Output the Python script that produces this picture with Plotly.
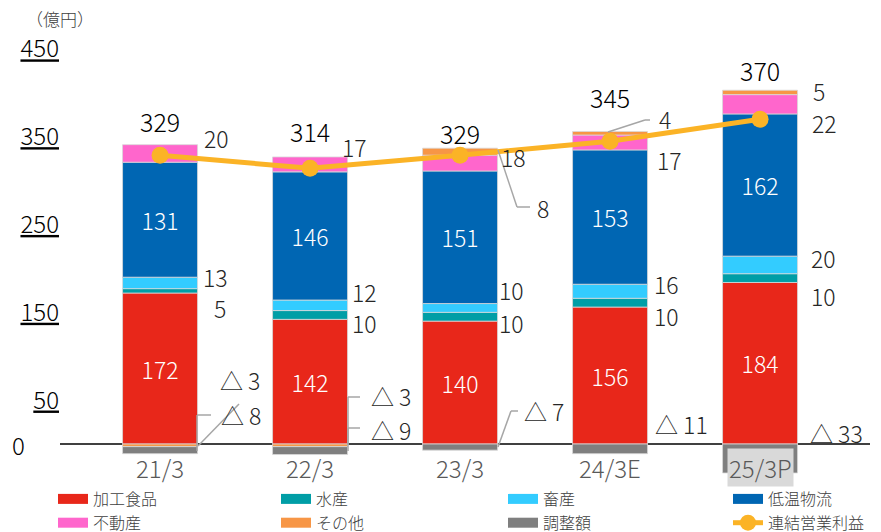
import plotly.graph_objects as go

# ---------------- data ----------------
categories = ["21/3", "22/3", "23/3", "24/3E", "25/3P"]
processed_food = [172, 142, 140, 156, 184]    # 加工食品
marine = [5, 10, 10, 10, 10]                  # 水産
livestock = [13, 12, 10, 16, 20]              # 畜産
cold_logistics = [131, 146, 151, 153, 162]    # 低温物流
real_estate = [20, 17, 18, 17, 22]            # 不動産
other = [-3, -3, 8, 4, 5]                     # その他
adjustment = [-8, -9, -7, -11, -33]           # 調整額
operating_profit = [329, 314, 329, 345, 370]  # 連結営業利益
y_tick_values = [50, 150, 250, 350, 450]

series = [
    ("加工食品", processed_food, "#E8271A"),
    ("水産", marine, "#009EA6"),
    ("畜産", livestock, "#33CCFF"),
    ("低温物流", cold_logistics, "#0066B3"),
    ("不動産", real_estate, "#FF66CC"),
    ("その他", other, "#F79646"),
    ("調整額", adjustment, "#7F7F7F"),
]
LINE_COLOR = "#FBB326"
FONT = "Noto Sans CJK JP"
LIGHT = 300

# ---------------- layout geometry ----------------
W, H = 881, 532
ML, MR, MT, MB = 60, 11, 20, 52
XR = [-0.667, 4.733]
YR = [-41, 483]


def xd(px):
    return XR[0] + (px - ML) / (W - ML - MR) * (XR[1] - XR[0])


def yd(py):
    return YR[1] - (py - MT) / (H - MT - MB) * (YR[1] - YR[0])


fig = go.Figure()

# ---------------- stacked bars ----------------
inside_label = {"加工食品", "低温物流"}
for name, vals, color in series:
    fig.add_trace(go.Bar(
        x=categories, y=vals, name=name, width=0.5,
        marker=dict(color=color, line=dict(color="#D9D9D9", width=0.8)),
        text=[str(v) for v in vals] if name in inside_label else None,
        textposition="inside" if name in inside_label else "none",
        insidetextanchor="middle", textangle=0, constraintext="none",
        insidetextfont=dict(color="white", size=23, family=FONT, weight=LIGHT),
        showlegend=False, hoverinfo="skip",
    ))

# ---------------- legend entries ----------------
legend_of = {"加工食品": "legend", "不動産": "legend",
             "水産": "legend2", "その他": "legend2",
             "畜産": "legend3", "調整額": "legend3",
             "低温物流": "legend4"}
legend_order = ["加工食品", "不動産", "水産", "その他", "畜産", "調整額", "低温物流"]
colors = {n_: c for n_, _, c in series}
for n_ in legend_order:
    fig.add_trace(go.Scatter(
        x=[None], y=[None], mode="lines", name=n_,
        line=dict(color=colors[n_], width=12),
        legend=legend_of[n_], hoverinfo="skip",
    ))

# ---------------- consolidated operating profit line ----------------
fig.add_trace(go.Scatter(
    x=categories, y=operating_profit, name="連結営業利益",
    mode="lines+markers",
    line=dict(color=LINE_COLOR, width=5),
    marker=dict(color=LINE_COLOR, size=17),
    legend="legend4",
))

# ---------------- segment labels ----------------
n = len(categories)
pos_base = [0] * n
neg_base = [0] * n
mids = {}
for name, vals, _ in series:
    m = []
    for i, v in enumerate(vals):
        if v >= 0:
            m.append(pos_base[i] + v / 2)
            pos_base[i] += v
        else:
            m.append(neg_base[i] + v / 2)
            neg_base[i] += v
    mids[name] = m
tops = pos_base[:]


def fmt(v):
    return ("△ " + str(-v)) if v < 0 else str(v)


# label offsets (px): (dx, dy) per category
offsets = {
    "水産": [(60, -17), (54, -8), (51, -6), (56, -13), (63, -18)],
    "畜産": [(55, 6), (54, 13), (51, 18), (56, 7), (63, 7)],
    "不動産": [(56, 15), (44, 17), (53, 6), (59, -18), (64, -19)],
    "その他": [(80, 65), (81, 49), (83, -56), (55, 14), (59, 1)],
    "調整額": [(81, 35), (81, 21), (84, 36), (71, 25), (76, 25)],
}
values = {n_: v for n_, v, _ in series}
annotations = []
for name, offs in offsets.items():
    for i, (dx, dy) in enumerate(offs):
        annotations.append(dict(
            x=categories[i], y=mids[name][i], xref="x", yref="y",
            text=fmt(values[name][i]), showarrow=False,
            xshift=dx, yshift=dy, xanchor="center", yanchor="middle",
            font=dict(size=23, color="#262626", family=FONT, weight=LIGHT),
        ))

total_dy = [24, 26, 15, 34, 20]
for i, v in enumerate(operating_profit):
    annotations.append(dict(
        x=categories[i], y=tops[i], xref="x", yref="y", text=str(v),
        showarrow=False, yshift=total_dy[i], yanchor="middle",
        font=dict(size=25, color="black", family=FONT, weight=LIGHT),
    ))

# category labels
for i, c in enumerate(categories):
    annotations.append(dict(
        x=c, y=yd(467), xref="x", yref="y", text=c, showarrow=False,
        yanchor="middle", font=dict(size=24, color="#595959", family=FONT, weight=LIGHT),
        bgcolor="#D9D9D9" if i == n - 1 else None,
    ))

annotations.append(dict(
    x=(18 - ML) / (W - ML - MR), y=0, xref="paper", yref="y", text="0",
    showarrow=False, xanchor="center", yanchor="middle",
    font=dict(size=24, color="black", family=FONT, weight=LIGHT)))
annotations.append(dict(
    x=(24 - ML) / (W - ML - MR), y=1 + (MT - 19) / (H - MT - MB),
    xref="paper", yref="paper", text="（億円）", showarrow=False,
    xanchor="left", yanchor="middle",
    font=dict(size=17, color="#404040", family=FONT, weight=LIGHT)))

# ---------------- leader lines ----------------
leaders = [
    [(198, 446), (239, 404)],
    [(211, 415), (197, 415), (197, 451)],
    [(360, 397), (348, 397), (348, 445)],
    [(360, 428), (348, 428), (348, 451)],
    [(498, 150), (517, 207), (530, 207)],
    [(498, 447), (511, 411), (518, 411)],
    [(608, 132), (645, 120), (650, 120)],
]
shapes = []
for pts in leaders:
    for (x0, y0), (x1, y1) in zip(pts[:-1], pts[1:]):
        shapes.append(dict(type="line", xref="x", yref="y",
                           x0=xd(x0), y0=yd(y0), x1=xd(x1), y1=yd(y1),
                           line=dict(color="#A6A6A6", width=1.5)))

legend_common = dict(orientation="v", yanchor="top", xanchor="left",
                     font=dict(size=16, color="#404040", family=FONT, weight=LIGHT),
                     bgcolor="rgba(0,0,0,0)", tracegroupgap=0, itemwidth=30)
ly = -(482 - (H - MB)) / (H - MT - MB)


def lx(text_px):
    return (text_px - 40 - ML) / (W - ML - MR)


fig.update_layout(
    width=W, height=H,
    margin=dict(l=ML, r=MR, t=MT, b=MB, autoexpand=False),
    paper_bgcolor="white", plot_bgcolor="white",
    barmode="relative", bargap=0.5,
    font=dict(family=FONT),
    showlegend=True,
    legend=dict(x=lx(93), y=ly, **legend_common),
    legend2=dict(x=lx(316), y=ly, **legend_common),
    legend3=dict(x=lx(543), y=ly, **legend_common),
    legend4=dict(x=lx(768), y=ly, **legend_common),
    xaxis=dict(type="category", categoryorder="array", categoryarray=categories,
               range=XR, showticklabels=False, showgrid=False, zeroline=False,
               showline=False, ticks=""),
    yaxis=dict(range=YR, tickvals=y_tick_values,
               ticktext=["<u>%d</u>" % v for v in y_tick_values],
               tickfont=dict(size=24, color="black", family=FONT, weight=LIGHT),
               showgrid=False, zeroline=True, zerolinecolor="#404040",
               zerolinewidth=1.5, showline=False, ticks="", layer="above traces"),
    annotations=annotations,
    shapes=shapes,
)

fig.write_html("out.html")
